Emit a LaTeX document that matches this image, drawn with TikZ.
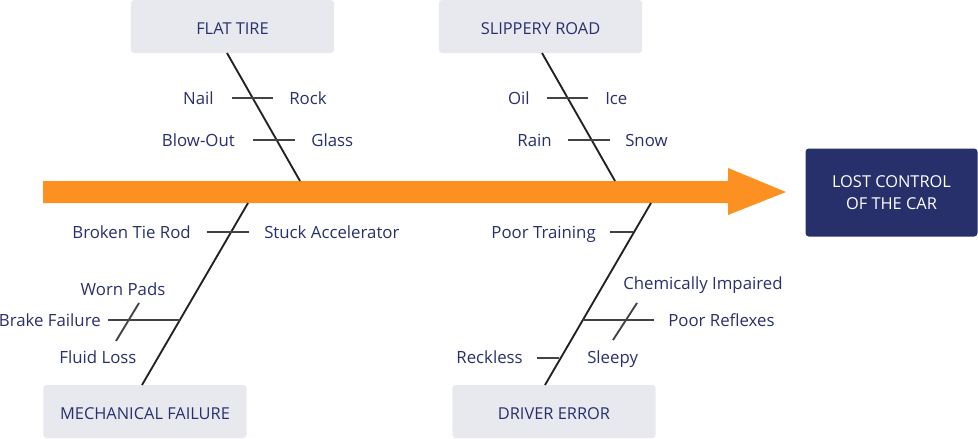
\documentclass[tikz,border=0pt]{standalone}
\usepackage{fontspec}
\setmainfont{Open Sans}
\definecolor{navy}{HTML}{28306C}
\definecolor{boxgray}{HTML}{E8E9EF}
\definecolor{arroworange}{HTML}{FC9121}
\definecolor{bonecol}{HTML}{222222}
\begin{document}
\begin{tikzpicture}[x=0.75pt,y=-0.75pt,
  lbl/.style={inner sep=0pt,text height=10.2pt,text depth=0pt,text=navy,font=\fontsize{12.6}{15}\selectfont},
  cat/.style={fill=boxgray,rounded corners=2.5pt,inner sep=0pt,minimum width=152.5pt,minimum height=39.75pt,text height=11.8pt,text depth=0pt,text=navy,font=\fontsize{12.3}{15}\selectfont},
  effect/.style={fill=navy,rounded corners=2.5pt,inner sep=0pt,minimum width=129pt,minimum height=66pt,text=white,align=center,font=\fontsize{12.3}{16.5}\selectfont},
  bone/.style={draw=bonecol,line width=1.4pt},
  rib/.style={draw=bonecol!85,line width=1.4pt}]
\useasboundingbox (0,0) rectangle (978,439);
% spine arrow
\fill[arroworange] (43,181) -- (728,181) -- (728,168) -- (786,192) -- (728,215) -- (728,203) -- (43,203) -- cycle;
% category boxes
\node[cat] (ft) at (232.5,26.5) {FLAT TIRE};
\node[cat] (sr) at (540.5,26.5) {SLIPPERY ROAD};
\node[cat] (mf) at (145,411.5) {MECHANICAL FAILURE};
\node[cat] (de) at (554,411.5) {DRIVER ERROR};
\node[effect] (lc) at (891.5,192.5) {LOST CONTROL\\OF THE CAR};
% bone endpoints
\coordinate (ftt) at (227,53);
\coordinate (ftb) at (300,181);
\coordinate (srt) at (542,53);
\coordinate (srb) at (615,181);
\coordinate (mft) at (248,203);
\coordinate (mfb) at (142,385);
\coordinate (det) at (651,203);
\coordinate (deb) at (545,385);
\draw[bone] (ftt) -- (ftb);
\draw[bone] (srt) -- (srb);
\draw[bone] (mft) -- (mfb);
\draw[bone] (det) -- (deb);
% ribs
\coordinate (r1a) at (232,98); \coordinate (r1b) at (273,98);
\coordinate (r2a) at (253,140); \coordinate (r2b) at (295,140);
\coordinate (r3a) at (547,98); \coordinate (r3b) at (588,98);
\coordinate (r4a) at (568,140); \coordinate (r4b) at (610,140);
\coordinate (r5a) at (207,232); \coordinate (r5b) at (249,232);
\coordinate (r6a) at (108,320); \coordinate (r6b) at (180,320);
\coordinate (r7a) at (139,303); \coordinate (r7b) at (116,341);
\coordinate (r8a) at (610,232); \coordinate (r8b) at (633,232);
\coordinate (r9a) at (583,320); \coordinate (r9b) at (654,320);
\coordinate (r10a) at (637,303); \coordinate (r10b) at (613,340);
\coordinate (r11a) at (537,358); \coordinate (r11b) at (559,358);
\foreach \r in {r1,r2,r3,r4,r5,r6,r7,r8,r9,r10,r11} \draw[rib] (\r a) -- (\r b);
% labels
\node[lbl,anchor=east] (nail) at (214,98) {Nail};
\node[lbl,anchor=west] (rock) at (289,98) {Rock};
\node[lbl,anchor=east] (blow) at (235,140) {Blow-Out};
\node[lbl,anchor=west] (glass) at (311,140) {Glass};
\node[lbl,anchor=east] (oil) at (530,98) {Oil};
\node[lbl,anchor=west] (ice) at (605,98) {Ice};
\node[lbl,anchor=east] (rain) at (552,140) {Rain};
\node[lbl,anchor=west] (snow) at (625,140) {Snow};
\node[lbl,anchor=east] (btr) at (191,232) {Broken Tie Rod};
\node[lbl,anchor=west] (sa) at (264,232) {Stuck Accelerator};
\node[lbl] (wp) at (123,289) {Worn Pads};
\node[lbl,anchor=east] (bf) at (101,320) {Brake Failure};
\node[lbl] (fl) at (98,357) {Fluid Loss};
\node[lbl,anchor=east] (pt) at (596,232) {Poor Training};
\node[lbl,anchor=west] (ci) at (623,283) {Chemically Impaired};
\node[lbl,anchor=west] (pr) at (668,320) {Poor Reflexes};
\node[lbl,anchor=west] (sl) at (587,357) {Sleepy};
\node[lbl,anchor=east] (rk) at (523,357) {Reckless};
\end{tikzpicture}
\end{document}
